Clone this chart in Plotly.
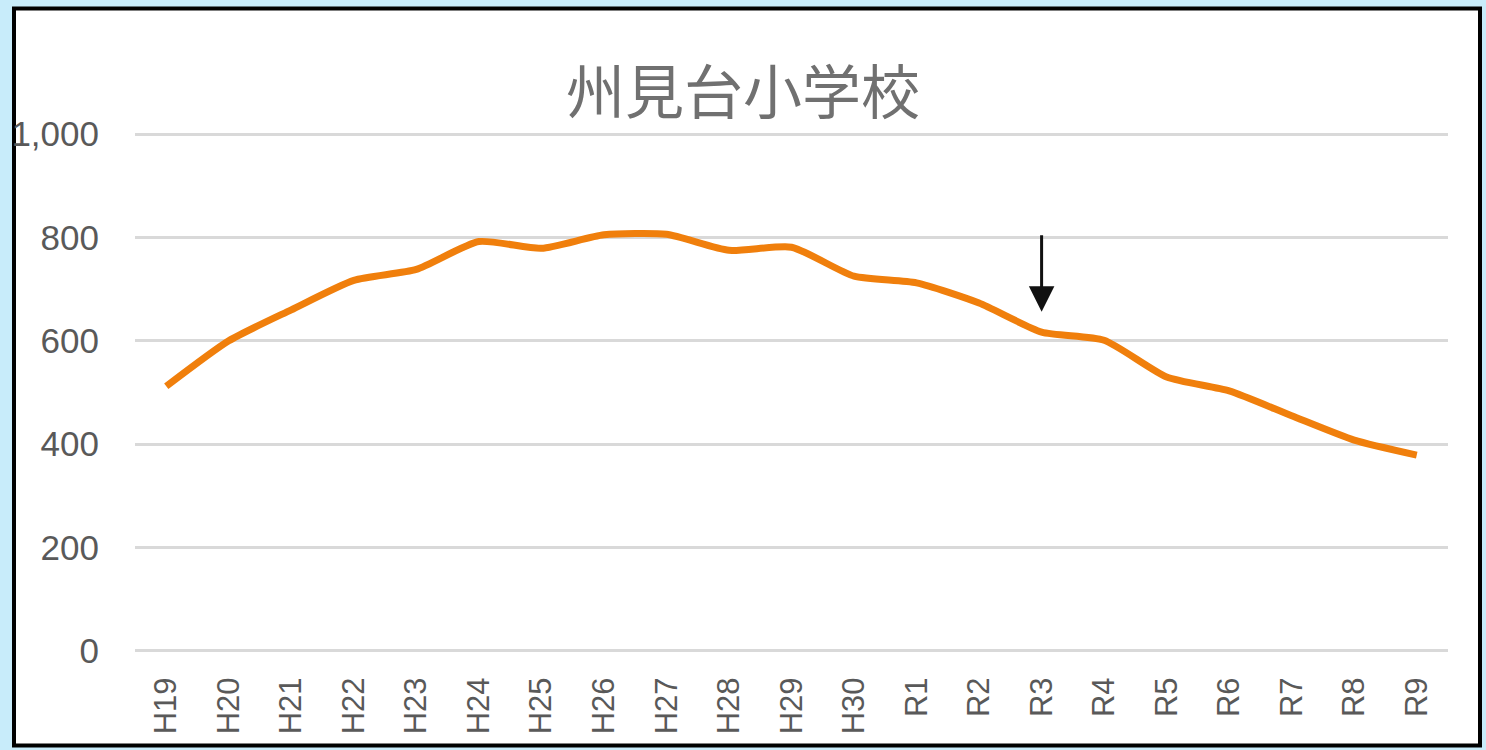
import plotly.graph_objects as go

years = ["H19", "H20", "H21", "H22", "H23", "H24", "H25", "H26", "H27", "H28", "H29",
         "H30", "R1", "R2", "R3", "R4", "R5", "R6", "R7", "R8", "R9"]
students = [512, 600, 660, 717, 738, 792, 779, 805, 806, 775, 781,
            725, 712, 673, 617, 601, 530, 503, 455, 408, 379]
y_ticks = [0, 200, 400, 600, 800, 1000]
y_tick_text = ["0", "200", "400", "600", "800", "1,000"]
title_text = "州見台小学校"
arrow_year = "R3"
arrow_value = 656

W, H = 1486, 750
L, R, T, B = 135, 38, 133, 98
pw, ph = W - L - R, H - T - B

def px(x):
    return (x - L) / pw

def py(y):
    return (H - B - y) / ph

fig = go.Figure()
fig.add_trace(go.Scatter(
    x=years, y=students, mode="lines",
    line=dict(color="#F07F0C", width=7, shape="spline", smoothing=0.6),
    hoverinfo="x+y", showlegend=False,
))

fig.add_shape(type="rect", xref="paper", yref="paper",
              x0=px(14), x1=px(1480), y0=py(745.5), y1=py(8.5),
              fillcolor="white", line=dict(color="black", width=4), layer="below")

fig.add_annotation(x=arrow_year, y=arrow_value, ax=0, ay=-78, text="",
                   showarrow=True, arrowhead=2, arrowsize=1.7, arrowwidth=3,
                   arrowcolor="#111111")

fig.add_annotation(text=title_text, xref="paper", yref="paper",
                   x=px(743), y=py(89), xanchor="center", yanchor="middle",
                   showarrow=False,
                   font=dict(family="Noto Sans CJK JP", size=59, color="#707070"))

fig.update_layout(
    width=W, height=H,
    margin=dict(l=L, r=R, t=T, b=B, pad=0, autoexpand=False),
    paper_bgcolor="#C8ECFA",
    plot_bgcolor="rgba(0,0,0,0)",
    font=dict(family="Liberation Sans, Arial", size=34, color="#595959"),
    xaxis=dict(range=[-0.5, len(years) - 0.5], automargin=False,
               showgrid=False, showline=False, zeroline=False,
               tickangle=-90, ticks="outside", ticklen=12, tickcolor="rgba(0,0,0,0)",
               tickfont=dict(size=31, color="#595959")),
    yaxis=dict(range=[-2, 1002], automargin=False,
               tickvals=y_ticks, ticktext=y_tick_text,
               showgrid=True, gridcolor="#D9D9D9", gridwidth=3,
               zeroline=False, showline=False,
               ticks="outside", ticklen=28, tickcolor="rgba(0,0,0,0)",
               tickfont=dict(size=35, color="#595959")),
)

fig.write_html("out.html", config={"displayModeBar": False},
               post_script="document.body.style.margin='0';document.body.style.overflow='hidden';")
